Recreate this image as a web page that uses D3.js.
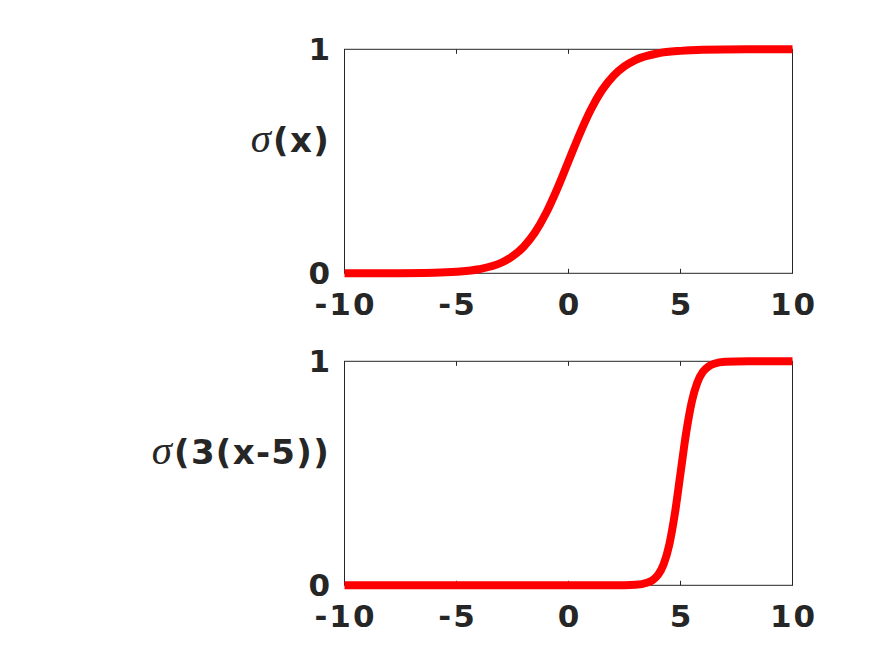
<!DOCTYPE html>
<html>
<head>
<meta charset="utf-8">
<script src="https://cdn.jsdelivr.net/npm/d3@7"></script>
<style>
  body { margin: 0; background: #fff; }
  svg { display: block; }
</style>
</head>
<body>
<svg id="chart" width="875" height="656"></svg>
<script>
// values
const xTop = [-10, -8, -6, -5, -4, -3, -2.5, -2, -1.5, -1, -0.5, 0, 0.5, 1, 1.5, 2, 2.5, 3, 4, 5, 6, 8, 10];
const yTop = [0.00005, 0.0003, 0.0025, 0.007, 0.018, 0.047, 0.076, 0.119, 0.182, 0.269, 0.378, 0.5, 0.622, 0.731, 0.818, 0.881, 0.924, 0.953, 0.982, 0.993, 0.9975, 0.9997, 1.0];

const xBot = [-10, -5, 0, 2, 3, 3.5, 3.75, 4, 4.25, 4.5, 4.75, 5, 5.25, 5.5, 5.75, 6, 6.25, 6.5, 7, 8, 10];
const yBot = [0, 0, 0, 0.0001, 0.0025, 0.011, 0.023, 0.047, 0.095, 0.182, 0.321, 0.5, 0.679, 0.818, 0.905, 0.953, 0.977, 0.989, 0.9975, 0.9999, 1.0];

const xTicks = [-10, -5, 0, 5, 10];
const yTicks = [0, 1];

const svg = d3.select("#chart");
const ink = "#262626";

function drawPanel(top, xs, ys, label) {
  const x = d3.scaleLinear().domain([-10, 10]).range([344.5, 792.5]);
  const y = d3.scaleLinear().domain([0, 1]).range([top + 224, top]);
  const g = svg.append("g");

  // box
  g.append("rect")
    .attr("x", x(-10)).attr("y", y(1))
    .attr("width", x(10) - x(-10)).attr("height", y(0) - y(1))
    .attr("fill", "none").attr("stroke", ink).attr("stroke-width", 1);

  // inward ticks, bottom and top
  g.selectAll(".tb").data(xTicks).enter().append("line")
    .attr("x1", d => x(d)).attr("x2", d => x(d))
    .attr("y1", y(0)).attr("y2", y(0) - 4.5)
    .attr("stroke", ink);
  g.selectAll(".tt").data(xTicks).enter().append("line")
    .attr("x1", d => x(d)).attr("x2", d => x(d))
    .attr("y1", y(1)).attr("y2", y(1) + 4.5)
    .attr("stroke", ink);

  // tick labels
  g.selectAll(".xl").data(xTicks).enter().append("text")
    .attr("x", d => x(d) + 1).attr("y", y(0) + 42)
    .attr("text-anchor", "middle")
    .style("font", "bold 31px 'DejaVu Sans'").style("letter-spacing", "2px")
    .attr("fill", ink)
    .text(d => d);
  g.selectAll(".yl").data(yTicks).enter().append("text")
    .attr("x", 332).attr("y", d => y(d) + 11)
    .attr("text-anchor", "end")
    .style("font", "bold 31px 'DejaVu Sans'").style("letter-spacing", "2px")
    .attr("fill", ink)
    .text(d => d);

  // y label
  const t = g.append("text")
    .attr("x", 330).attr("y", top + 103)
    .attr("text-anchor", "end").attr("fill", ink);
  t.append("tspan").style("font", "italic 41px 'Liberation Serif'").text("σ");
  t.append("tspan").attr("dx", 2)
    .style("font", "bold 34px 'DejaVu Sans'").style("letter-spacing", "1.3px")
    .text(label);

  // curve
  const line = d3.line()
    .x(d => x(d[0])).y(d => y(d[1]))
    .curve(d3.curveMonotoneX);
  g.append("path")
    .datum(xs.map((v, i) => [v, ys[i]]))
    .attr("d", line)
    .attr("fill", "none").attr("stroke", "#ff0000")
    .attr("stroke-width", 8);
}

drawPanel(49.3, xTop, yTop, "(x)");
drawPanel(361.3, xBot, yBot, "(3(x-5))");
</script>
</body>
</html>
